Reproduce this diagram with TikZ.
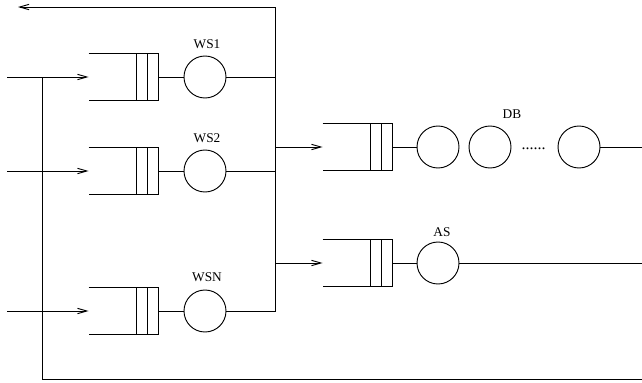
\documentclass[tikz,border=0pt]{standalone}
\usepackage{fontspec}
\setmainfont{Liberation Serif}
\usetikzlibrary{calc,arrows.meta}
\begin{document}
\begin{tikzpicture}[x=0.75pt,y=-0.75pt,line width=0.7pt,
  srv/.style={circle,draw,minimum size=31.5pt,inner sep=0pt},
  que/.style={rectangle,draw=none,minimum width=51.75pt,minimum height=34.5pt,inner sep=0pt},
  lbl/.style={font=\fontsize{10}{12}\selectfont,inner sep=0pt},
  arr/.style={-{Straight Barb[length=7pt,width=4pt]}}]
\useasboundingbox (0,0) rectangle (642,382);
\newcommand{\drawqueue}[1]{%
  \draw (#1.north west) -- (#1.north east) -- (#1.south east) -- (#1.south west);
  \draw ($(#1.north east)+(-11,0)$) -- ($(#1.south east)+(-11,0)$);
  \draw ($(#1.north east)+(-22,0)$) -- ($(#1.south east)+(-22,0)$);}
% web servers
\node[que] (q1) at (123.5,77) {};
\node[que] (q2) at (123.5,171) {};
\node[que] (q3) at (123.5,311) {};
\node[srv] (s1) at (205,77) {};
\node[srv] (s2) at (205,171) {};
\node[srv] (s3) at (205,311) {};
\node[lbl] (l1) at (207,44) {WS1};
\node[lbl] (l2) at (207,138) {WS2};
\node[lbl] (l3) at (207,277) {WSN};
\drawqueue{q1}\drawqueue{q2}\drawqueue{q3}
\draw (q1.east) -- (s1.west);
\draw (q2.east) -- (s2.west);
\draw (q3.east) -- (s3.west);
% DB
\node[que] (qd) at (357.5,147) {};
\node[srv] (d1) at (438,147) {};
\node[srv] (d2) at (490,147) {};
\node[srv] (d3) at (579,147) {};
\node[lbl] (ld) at (512,114) {DB};
\node[lbl,anchor=base,font=\fontsize{12}{14}\selectfont] (dots) at (533.5,149.5) {......};
\drawqueue{qd}
\draw (qd.east) -- (d1.west);
% AS
\node[que] (qa) at (357.5,263) {};
\node[srv] (a1) at (438,263) {};
\node[lbl] (la) at (442,232) {AS};
\drawqueue{qa}
\draw (qa.east) -- (a1.west);
% coordinates
\coordinate (i1) at (7,77);
\coordinate (i2) at (7,171);
\coordinate (i3) at (7,311);
\coordinate (jl) at (42,77);
\coordinate (bl) at (42,379);
\coordinate (br) at (642,379);
\coordinate (rt) at (275,7);
\coordinate (tl) at (18,7);
\coordinate (r1) at (275,77);
\coordinate (r2) at (275,171);
\coordinate (r3) at (275,311);
\coordinate (rd) at (275,147);
\coordinate (ra) at (275,263);
\coordinate (de) at (642,147);
\coordinate (ae) at (642,263);
% connectors
\draw[arr] (i1) -- (q1.west);
\draw[arr] (i2) -- (q2.west);
\draw[arr] (i3) -- (q3.west);
\draw (jl) -- (bl) -- (br);
\draw (s1.east) -- (r1);
\draw (s2.east) -- (r2);
\draw[arr] (s3.east) -- (r3) -- (rt) -- (tl);
\draw[arr] (rd) -- (qd.west);
\draw[arr] (ra) -- (qa.west);
\draw (d3.east) -- (de);
\draw (a1.east) -- (ae);
\end{tikzpicture}
\end{document}
